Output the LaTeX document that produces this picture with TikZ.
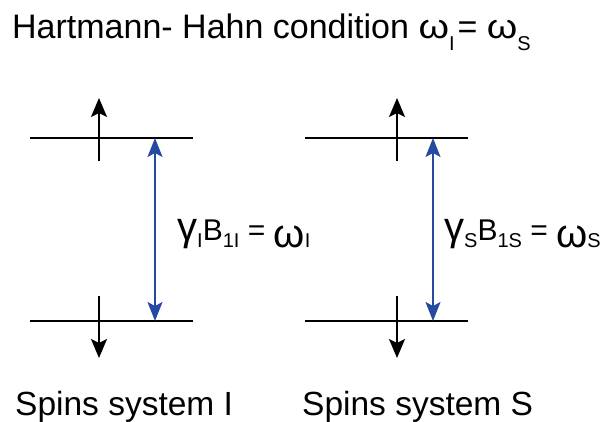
\documentclass[tikz,border=0pt]{standalone}
\usepackage{fontspec}
\setmainfont{Liberation Sans}
\usetikzlibrary{arrows.meta}
\definecolor{arrowblue}{RGB}{38,74,160}
\newcommand{\lowsub}[2]{\raisebox{#1}{\fontsize{20bp}{20bp}\selectfont #2}}
\newcommand{\biggamma}{{\fontsize{40bp}{40bp}\selectfont γ}}
\newcommand{\bigw}{\raisebox{-7bp}{\fontsize{40bp}{40bp}\selectfont ω}}
\newcommand{\widew}{\scalebox{1.15}[1]{ω}}
\begin{document}
\begin{tikzpicture}[x=1bp,y=-1bp,
  level/.style={line width=1.8bp,black},
  spinarrow/.style={line width=1.8bp,black,-{Stealth[length=19bp,width=16bp,inset=4bp]}},
  transition/.style={line width=1.4bp,arrowblue,{Stealth[length=19bp,width=15bp,inset=4bp]}-{Stealth[length=19bp,width=15bp,inset=4bp]}},
  label/.style={inner sep=0pt,anchor=base west}]
\useasboundingbox (0,0) rectangle (604,421);
% title
\node[label,font=\fontsize{34bp}{40bp}\selectfont] (title) at (12,38)
  {Hartmann- Hahn condition \widew\lowsub{-12bp}{I}\kern3bp= \widew\lowsub{-12bp}{S}};
% system I
\coordinate (IUl) at (30,138); \coordinate (IUr) at (193,138);
\coordinate (ILl) at (30,321); \coordinate (ILr) at (193,321);
\coordinate (IUa) at (99,161); \coordinate (IUb) at (99,98);
\coordinate (ILa) at (99,296); \coordinate (ILb) at (99,358);
\coordinate (ITu) at (155,138); \coordinate (ITl) at (155,321);
\draw[level] (IUl) -- (IUr);
\draw[level] (ILl) -- (ILr);
\draw[spinarrow] (IUa) -- (IUb);
\draw[spinarrow] (ILa) -- (ILb);
\draw[transition] (ITu) -- (ITl);
\node[label,font=\fontsize{30bp}{34bp}\selectfont] (labI) at (177,240)
  {\biggamma\lowsub{-7bp}{I}B\lowsub{-7bp}{1I} = \bigw\lowsub{-7bp}{I}};
\node[label,font=\fontsize{33.5bp}{38bp}\selectfont] (sysI) at (15,415) {Spins system I};
% system S
\coordinate (SUl) at (305,138); \coordinate (SUr) at (468,138);
\coordinate (SLl) at (305,321); \coordinate (SLr) at (468,321);
\coordinate (SUa) at (397,161); \coordinate (SUb) at (397,98);
\coordinate (SLa) at (397,296); \coordinate (SLb) at (397,358);
\coordinate (STu) at (433,138); \coordinate (STl) at (433,321);
\draw[level] (SUl) -- (SUr);
\draw[level] (SLl) -- (SLr);
\draw[spinarrow] (SUa) -- (SUb);
\draw[spinarrow] (SLa) -- (SLb);
\draw[transition] (STu) -- (STl);
\node[label,font=\fontsize{30bp}{34bp}\selectfont] (labS) at (444,240)
  {\biggamma\lowsub{-7bp}{S}B\lowsub{-7bp}{1S} = \bigw\lowsub{-7bp}{S}};
\node[label,font=\fontsize{33.5bp}{38bp}\selectfont] (sysS) at (302,415) {Spins system S};
\end{tikzpicture}
\end{document}
